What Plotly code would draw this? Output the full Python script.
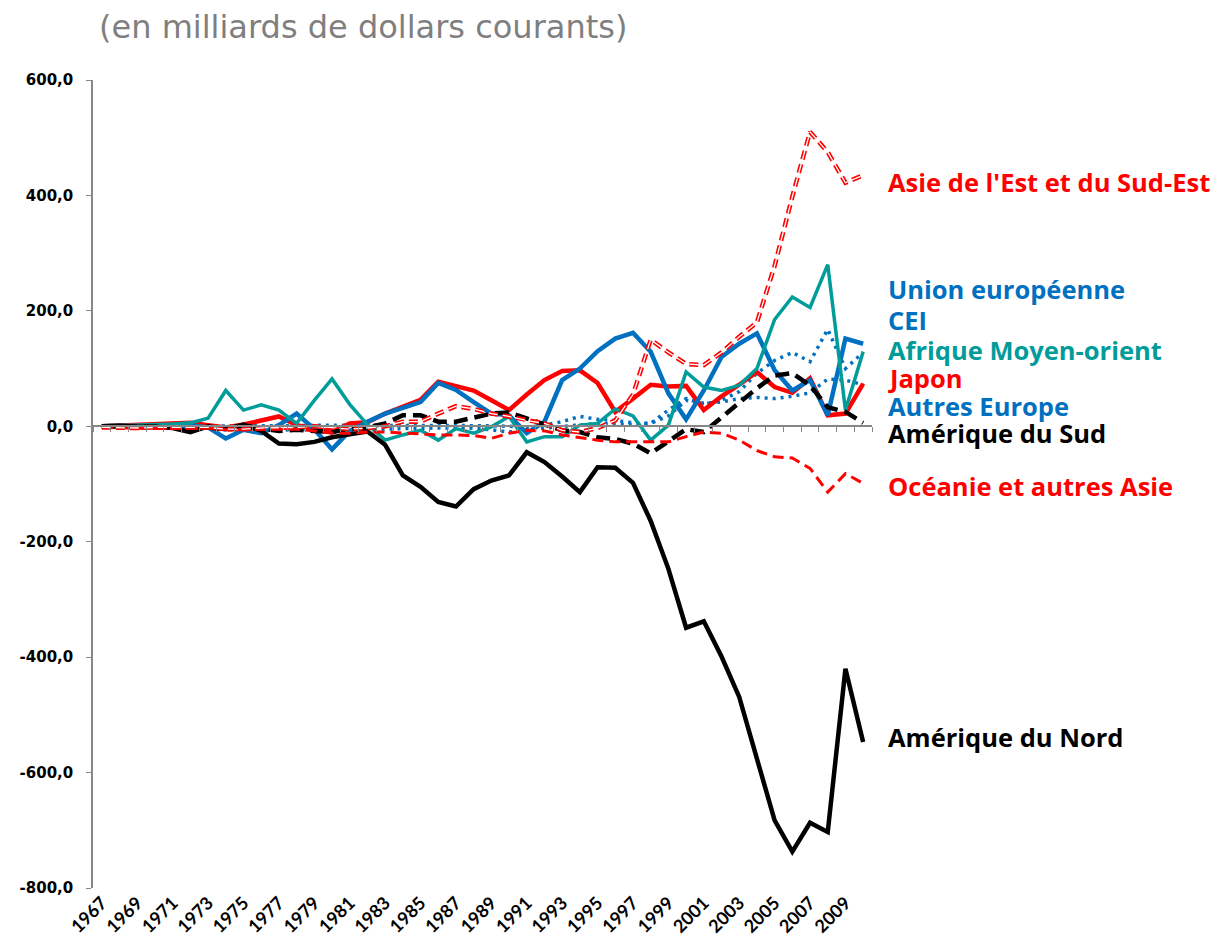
import plotly.graph_objects as go

years = list(range(1967, 2011))

amerique_nord = [0, 1, -1, -1, -3, -10, 0, -5, 3, -8, -30, -31, -27, -19, -14, -9,
                 -32, -85, -105, -131, -139, -109, -94, -85, -45, -62, -87, -114, -71, -72,
                 -98, -164, -247, -349, -338, -399, -469, -579, -683, -737, -687, -703, -420, -547]
amerique_sud = [0, 0, 0, -1, -2, -3, -2, -6, 2, -4, -8, -6, -8, -10, -5, -2,
                5, 19, 19, 8, 8, 16, 22, 24, 14, 5, -7, -10, -19, -22,
                -30, -47, -26, -5, -10, 16, 42, 66, 88, 92, 71, 33, 25, 6]
japon = [0, 1, 2, 3, 5, 6, 2, -2, 3, 10, 17, 2, -5, -10, 5, 7,
         22, 33, 46, 77, 70, 62, 45, 28, 55, 80, 96, 97, 75, 25,
         48, 72, 69, 70, 28, 52, 72, 94, 68, 58, 83, 19, 22, 74]
union_europeenne = [0, 1, 0, 0, 1, 2, -2, -21, -6, -12, 2, 22, -5, -40, -8, 8,
                    22, 32, 42, 75, 63, 42, 22, 19, -12, 8, 80, 100, 130, 152,
                    162, 129, 57, 12, 62, 120, 143, 161, 97, 62, 80, 19, 152, 143]
afrique_moyen_orient = [0, 1, 1, 2, 4, 6, 14, 62, 28, 37, 28, 5, 45, 82, 38, 3,
                        -24, -15, -7, -24, -4, -12, -1, 17, -27, -18, -18, 2, 5, 30,
                        18, -24, 2, 94, 68, 62, 71, 100, 185, 224, 206, 280, 28, 129]
asie_est = [-2, -3, -3, -2, -2, -3, -2, -5, -5, -3, -3, -2, 0, -3, -5, -3,
            0, 8, 8, 22, 35, 30, 22, 17, 10, 5, -7, -10, -3, 10,
            55, 150, 128, 108, 106, 128, 155, 180, 278, 398, 510, 475, 422, 435]
oceanie = [-2, -3, -3, -4, -4, -4, -3, -6, -6, -5, -6, -5, -8, -12, -12, -10,
           -10, -12, -14, -15, -15, -16, -21, -12, -7, -8, -15, -20, -24, -27,
           -27, -27, -27, -18, -10, -12, -24, -42, -53, -55, -73, -114, -82, -99]
cei = [0, 0, 0, 0, 0, 0, 0, 1, 1, 0, 0, 1, 2, 2, 1, 1,
       2, 2, 1, 1, 2, 2, 1, 0, -2, 2, 8, 17, 12, 10,
       6, 5, 28, 48, 38, 45, 60, 92, 114, 128, 112, 168, 100, 128]
autres_europe = [-1, -1, -2, -2, -2, -3, -3, -6, -5, -6, -7, -5, -8, -10, -8, -6,
                 -5, -4, -3, -3, -4, -3, -6, -10, -6, -3, 0, 2, 5, 4,
                 3, 5, 18, 45, 40, 42, 48, 50, 48, 52, 58, 82, 80, 72]

x_ticks = list(range(1967, 2010, 2))
y_ticks = [-800, -600, -400, -200, 0, 200, 400, 600]
y_ticktext = ["-800,0", "-600,0", "-400,0", "-200,0", "0,0", "200,0", "400,0", "600,0"]

RED = "#FF0000"
BLUE = "#0070C0"
TEAL = "#009C99"
BLACK = "#000000"

fig = go.Figure()


def add_line(values, color, width, dash="solid"):
    fig.add_trace(go.Scatter(x=years, y=values, mode="lines",
                             line=dict(color=color, width=width, dash=dash),
                             showlegend=False, hoverinfo="skip"))


add_line(cei, BLUE, 3.5, "3px,5px")
add_line(autres_europe, BLUE, 3.5, "3px,5px")
add_line(japon, RED, 4.5)
add_line(union_europeenne, BLUE, 4.5)
add_line(afrique_moyen_orient, TEAL, 3.5)
add_line(amerique_nord, BLACK, 4.5)
add_line(amerique_sud, BLACK, 4.5, "14px,7px")
add_line(oceanie, RED, 3, "11px,6px")
# outlined dashes: red stroke then a thin white core on the same path
add_line(asie_est, RED, 4.5, "9px,5px")
add_line(asie_est, "#FFFFFF", 1.3, "9px,5px")

# invisible trace so the zero-line axis is drawn
fig.add_trace(go.Scatter(x=[years[0]], y=[0], xaxis="x2", mode="markers",
                         marker=dict(opacity=0), showlegend=False, hoverinfo="skip"))

labels = [
    ("Asie de l'Est et du Sud-Est", 424, RED),
    ("Union européenne", 238, BLUE),
    ("CEI", 185, BLUE),
    ("Afrique Moyen-orient", 133, TEAL),
    ("Japon", 83, RED),
    ("Autres Europe", 35, BLUE),
    ("Amérique du Sud", -12, BLACK),
    ("Océanie et autres Asie", -104, RED),
    ("Amérique du Nord", -539, BLACK),
]
for text, yv, color in labels:
    fig.add_annotation(text=text, x=1.0174, xref="paper", y=yv, yref="y",
                       xanchor="left", yanchor="middle", showarrow=False,
                       font=dict(family="Open Sans", size=25.5, color=color, weight="bold"))

fig.add_annotation(text="(en milliards de dollars courants)", x=(87 - 83) / 789, xref="paper",
                   y=(888 - 27) / 808, yref="paper", xanchor="left", yanchor="middle",
                   showarrow=False,
                   font=dict(family="DejaVu Sans", size=32, color="#7F7F7F"))

# page body has an 8px margin, so the margins are shifted by 8px
fig.update_layout(
    width=1232, height=943,
    margin=dict(l=75, r=368, t=72, b=63),
    plot_bgcolor="white", paper_bgcolor="white",
    xaxis=dict(range=[1966.5, 2010.5], tickvals=x_ticks, ticktext=[str(v) for v in x_ticks],
               tickangle=-45, showline=False, showgrid=False, zeroline=False, ticks="",
               tickfont=dict(family="Lato", size=18, color="black", weight="bold")),
    xaxis2=dict(range=[1966.5, 2010.5], overlaying="x", anchor="free",
                position=800 / 1400, showline=True, linecolor="#868686", linewidth=1.5,
                ticks="outside", ticklen=5, tickcolor="#868686",
                tickvals=[y - 0.5 for y in years] + [2010.5],
                showticklabels=False, showgrid=False, zeroline=False),
    yaxis=dict(range=[-800, 600], tickvals=y_ticks, ticktext=y_ticktext,
               showline=True, linecolor="#868686", linewidth=1.5, ticks="outside",
               ticklen=5, tickcolor="#868686", showgrid=False, zeroline=False,
               ticklabelstandoff=10,
               tickfont=dict(family="DejaVu Sans", size=15, color="black", weight="bold")),
)

fig.write_html("out.html")
